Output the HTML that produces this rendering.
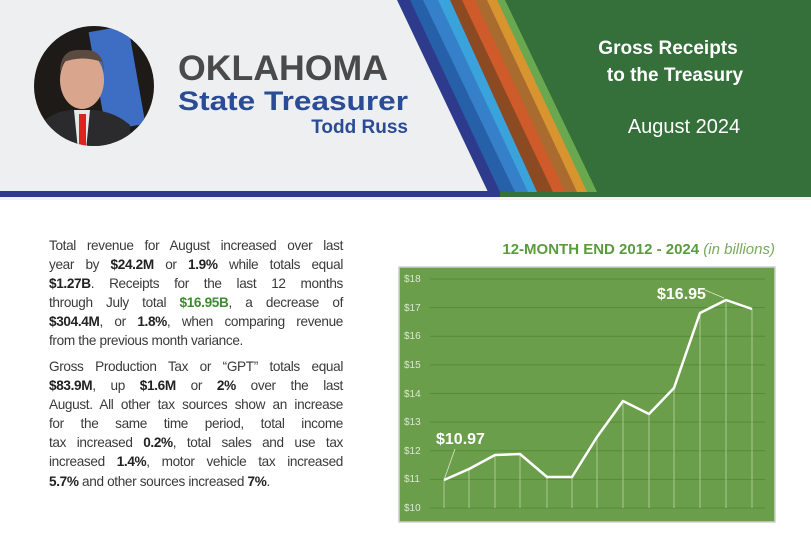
<!DOCTYPE html>
<html><head><meta charset="utf-8"><style>
html,body{margin:0;padding:0;width:811px;height:540px;overflow:hidden;background:#fff;font-family:"Liberation Sans",sans-serif;}
.t{position:absolute;left:49px;width:294px;font-size:13.6px;letter-spacing:-0.35px;color:#3a3a3a;}
.t div{height:19.1px;line-height:19.1px;text-align:justify;text-align-last:justify;white-space:nowrap;}
.t div.l{text-align-last:left;}
b{color:#222}
b.g{color:#3f8a2f}
</style></head><body>
<svg width="811" height="540" style="position:absolute;left:0;top:0">
<rect x="0" y="0" width="811" height="197" fill="#356f3a"/>
<polygon points="0,0 505,0 597,192 0,192" fill="#6aa84f"/>
<polygon points="0,0 497,0 587,192 0,192" fill="#d8952f"/>
<polygon points="0,0 487,0 577,192 0,192" fill="#a96b2e"/>
<polygon points="0,0 475,0 565,192 0,192" fill="#cf5a2a"/>
<polygon points="0,0 462,0 553,192 0,192" fill="#8c4a22"/>
<polygon points="0,0 450,0 537,192 0,192" fill="#3aa3dc"/>
<polygon points="0,0 438,0 528,192 0,192" fill="#3580c8"/>
<polygon points="0,0 423,0 515,192 0,192" fill="#2560a8"/>
<polygon points="0,0 410,0 500,192 0,192" fill="#2e3a8c"/>
<polygon points="0,0 397,0 488,192 0,192" fill="#eeeff1"/>
<rect x="0" y="191" width="500" height="6" fill="#2e3a8c"/>
<rect x="0" y="197" width="811" height="3" fill="#f2f2f2"/>
<clipPath id="c"><circle cx="94" cy="86" r="60"/></clipPath>
<g clip-path="url(#c)">
<rect x="30" y="20" width="130" height="130" fill="#1e1a17"/>
<rect x="97" y="28" width="40" height="100" fill="#3e6ec4" transform="rotate(-10 117 78)"/>
<ellipse cx="82" cy="80" rx="22" ry="29" fill="#d9a58c"/>
<path d="M82,50 Q60,48 60,72 L64,62 Q82,55 102,62 L104,72 Q104,48 82,50Z" fill="#5a4a40"/>
<path d="M40,125 Q55,108 82,110 Q110,108 130,125 L130,150 L40,150 Z" fill="#2b2b2e"/>
<path d="M74,110 L90,110 L86,150 L78,150Z" fill="#e8e8ea"/>
<rect x="79" y="114" width="7" height="36" fill="#d22"/>
</g>
<text x="178" y="80" font-size="35" font-weight="bold" fill="#4a4a4a" textLength="210" lengthAdjust="spacingAndGlyphs">OKLAHOMA</text>
<text x="178" y="110" font-size="27" font-weight="bold" fill="#2a4b96" textLength="230" lengthAdjust="spacingAndGlyphs">State Treasurer</text>
<text x="408" y="133" font-size="19" font-weight="bold" fill="#2a4b96" text-anchor="end">Todd Russ</text>
<text x="668" y="54" font-size="19" font-weight="bold" fill="#fff" text-anchor="middle">Gross Receipts</text>
<text x="675" y="81" font-size="19" font-weight="bold" fill="#fff" text-anchor="middle">to the Treasury</text>
<text x="684" y="133" font-size="20" fill="#fff" text-anchor="middle">August 2024</text>

<text x="775" y="254" font-size="15" font-weight="bold" fill="#5b9b40" text-anchor="end">12-MONTH END 2012 - 2024 <tspan font-weight="normal" font-style="italic" fill="#7aaa60">(in billions)</tspan></text>
<rect x="399" y="267" width="376" height="255" fill="#6a9e4a" stroke="#cfcfcf" stroke-width="1.5"/>
<g stroke="#578a38" stroke-width="1">
<line x1="430" x2="765" y1="279" y2="279"/><line x1="430" x2="765" y1="307.6" y2="307.6"/>
<line x1="430" x2="765" y1="336.3" y2="336.3"/><line x1="430" x2="765" y1="364.9" y2="364.9"/>
<line x1="430" x2="765" y1="393.5" y2="393.5"/><line x1="430" x2="765" y1="422.1" y2="422.1"/>
<line x1="430" x2="765" y1="450.8" y2="450.8"/><line x1="430" x2="765" y1="479.4" y2="479.4"/>
<line x1="430" x2="765" y1="508" y2="508"/>
</g>
<g font-size="10" fill="#dbe8cf">
<text x="404" y="282">$18</text><text x="404" y="311">$17</text><text x="404" y="339">$16</text>
<text x="404" y="368">$15</text><text x="404" y="397">$14</text><text x="404" y="425">$13</text>
<text x="404" y="454">$12</text><text x="404" y="482">$11</text><text x="404" y="511">$10</text>
</g>
<g stroke="#a9c896" stroke-width="1">
<line x1="444" x2="444" y1="480" y2="508"/><line x1="469" x2="469" y1="469" y2="508"/>
<line x1="495" x2="495" y1="455" y2="508"/><line x1="520" x2="520" y1="454" y2="508"/>
<line x1="547" x2="547" y1="477" y2="508"/><line x1="572" x2="572" y1="477" y2="508"/>
<line x1="597" x2="597" y1="437" y2="508"/><line x1="623" x2="623" y1="401" y2="508"/>
<line x1="649" x2="649" y1="414" y2="508"/><line x1="674" x2="674" y1="388" y2="508"/>
<line x1="700" x2="700" y1="313" y2="508"/><line x1="726" x2="726" y1="300" y2="508"/>
<line x1="752" x2="752" y1="309" y2="508"/>
</g>
<polyline fill="none" stroke="#fff" stroke-width="2.5" stroke-linejoin="round" points="444,480 469,469 495,455 520,454 547,477 572,477 597,437 623,401 649,414 674,388 700,313 726,300 752,309"/>
<line x1="444" y1="480" x2="455" y2="449" stroke="#dbe8cf" stroke-width="0.8"/>
<line x1="705" y1="290" x2="724" y2="298" stroke="#dbe8cf" stroke-width="0.8"/>
<text x="436" y="444" font-size="16" font-weight="bold" fill="#fff">$10.97</text>
<text x="657" y="299" font-size="16" font-weight="bold" fill="#fff">$16.95</text>
</svg>
<div class="t" style="top:236px">
<div>Total revenue for August increased over last</div>
<div>year by <b>$24.2M</b> or <b>1.9%</b> while totals equal</div>
<div><b>$1.27B</b>. Receipts for the last 12 months</div>
<div>through July total <b class="g">$16.95B</b>, a decrease of</div>
<div><b>$304.4M</b>, or <b>1.8%</b>, when comparing revenue</div>
<div class="l">from the previous month variance.</div>
</div>
<div class="t" style="top:357px">
<div>Gross Production Tax or “GPT” totals equal</div>
<div><b>$83.9M</b>, up <b>$1.6M</b> or <b>2%</b> over the last</div>
<div>August. All other tax sources show an increase</div>
<div>for the same time period, total income</div>
<div>tax increased <b>0.2%</b>, total sales and use tax</div>
<div>increased <b>1.4%</b>, motor vehicle tax increased</div>
<div class="l"><b>5.7%</b> and other sources increased <b>7%</b>.</div>
</div>
</body></html>
